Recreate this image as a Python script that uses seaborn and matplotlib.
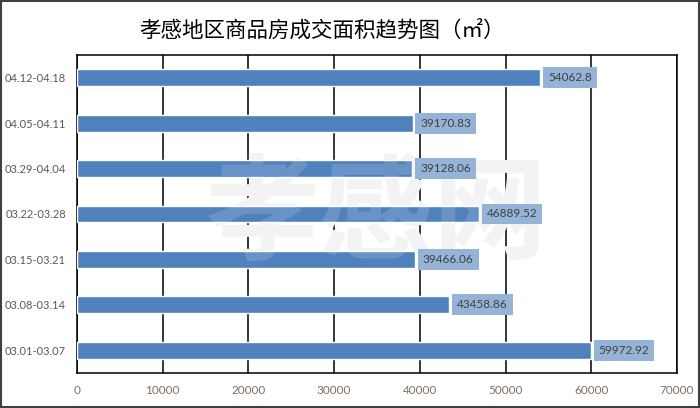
import matplotlib
matplotlib.use("Agg")
import matplotlib.pyplot as plt
import seaborn as sns
import pandas as pd
from matplotlib.patches import Rectangle

categories = ["04.12-04.18", "04.05-04.11", "03.29-04.04", "03.22-03.28",
              "03.15-03.21", "03.08-03.14", "03.01-03.07"]
values = [54062.8, 39170.83, 39128.06, 46889.52, 39466.06, 43458.86, 59972.92]
value_labels = ["54062.8", "39170.83", "39128.06", "46889.52",
                "39466.06", "43458.86", "59972.92"]
x_ticks = [0, 10000, 20000, 30000, 40000, 50000, 60000, 70000]
title = "孝感地区商品房成交面积趋势图（㎡）"
watermark = "孝感网"

sns.set_theme(style="white")
plt.rcParams['font.family'] = ['Lato', 'Noto Sans CJK SC', 'DejaVu Sans']

df = pd.DataFrame({"week": categories, "area": values})

fig = plt.figure(figsize=(7, 4.08), dpi=100)
fig.patch.set_facecolor("white")
ax = fig.add_axes([0.11, 0.086, 0.857, 0.779])

sns.barplot(data=df, y="week", x="area", orient="h", color="#4F81BD",
            saturation=1, width=0.37, ax=ax, zorder=3)

ax.set_xlim(0, 70000)
ax.set_ylim(6.5, -0.5)
ax.set_xticks(x_ticks)
ax.set_xticklabels([str(t) for t in x_ticks], color="#7F6F5F", fontsize=8.5)
ax.tick_params(axis="x", length=0, pad=9)
ax.tick_params(axis="y", length=0, pad=8, labelsize=8.0, labelcolor="#595959")
ax.set_xlabel("")
ax.set_ylabel("")

ax.grid(axis="x", color="black", linewidth=1.1, zorder=1)
ax.set_axisbelow(True)
for s in ax.spines.values():
    s.set_visible(True)
    s.set_color("black")
    s.set_linewidth(1.1)

for i, (v, lab) in enumerate(zip(values, value_labels)):
    ax.annotate(lab, xy=(v, i), xytext=(5.5, 0), textcoords="offset points",
                ha="left", va="center", fontsize=8.5, color="#404040",
                bbox=dict(boxstyle="square,pad=0.42", fc="#95B3D7", ec="none"),
                zorder=5)

# faint watermark: light gray behind the bars, plus a thin white veil over them
ax.text(0.5, 0.49, watermark, transform=ax.transAxes, ha="center", va="center",
        fontsize=82, fontweight="bold", color="#f2f2f2",
        family=["Noto Sans CJK SC"], zorder=2)
ax.text(0.5, 0.49, watermark, transform=ax.transAxes, ha="center", va="center",
        fontsize=82, fontweight="bold", color="white", alpha=0.15,
        family=["Noto Sans CJK SC"], zorder=4)

fig.text(0.46, 0.925, title, ha="center", va="center", fontsize=15.5,
         color="black", family=["Noto Sans CJK SC", "DejaVu Sans"])

fig.patches.append(Rectangle((0.001, 0.002), 0.997, 0.995, transform=fig.transFigure,
                             fill=False, edgecolor="#404040", linewidth=1.5))

fig.savefig("out.png", dpi=100)
